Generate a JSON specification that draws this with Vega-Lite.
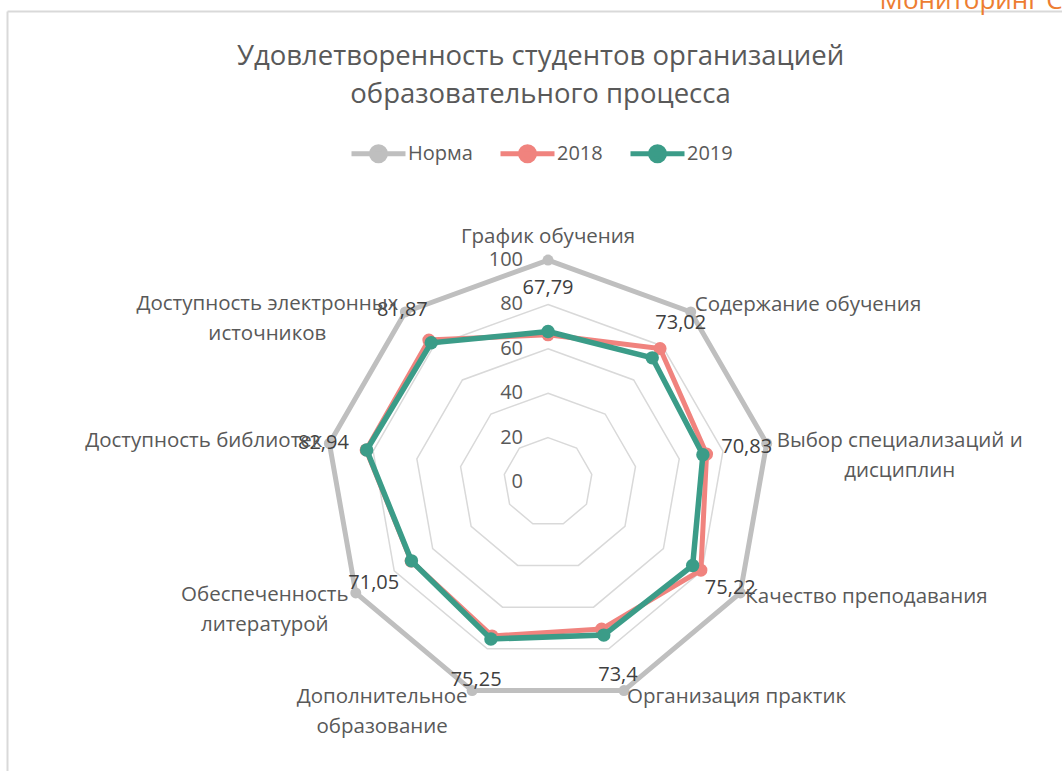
{
  "$schema": "https://vega.github.io/schema/vega-lite/v6.json",
  "width": 1055,
  "height": 760,
  "autosize": {"type": "none"},
  "padding": {"left": 7, "top": 11, "right": 0, "bottom": 0},
  "background": "white",
  "config": {
    "view": {"stroke": null},
    "font": "Open Sans",
    "locale": {"number": {"decimal": ",", "thousands": " ", "grouping": [3], "currency": ["", ""]}}
  },
  "title": {
    "text": ["Удовлетворенность студентов организацией", "образовательного процесса"],
    "anchor": "middle",
    "frame": "group",
    "orient": "top",
    "offset": -143,
    "baseline": "alphabetic",
    "fontSize": 27.5,
    "font": "Open Sans",
    "fontWeight": "normal",
    "color": "#595959",
    "lineHeight": 38,
    "dx": 6
  },
  "datasets": {
    "cats": [
      {"i": 0, "cat": "График обучения", "label": "График обучения", "levels": [0, 20, 40, 60, 80, 100]},
      {"i": 1, "cat": "Содержание обучения", "label": "Содержание обучения", "levels": [0, 20, 40, 60, 80, 100]},
      {"i": 2, "cat": "Выбор специализаций и дисциплин", "label": "Выбор специализаций и\nдисциплин", "levels": [0, 20, 40, 60, 80, 100]},
      {"i": 3, "cat": "Качество преподавания", "label": "Качество преподавания", "levels": [0, 20, 40, 60, 80, 100]},
      {"i": 4, "cat": "Организация практик", "label": "Организация практик", "levels": [0, 20, 40, 60, 80, 100]},
      {"i": 5, "cat": "Дополнительное образование", "label": "Дополнительное\nобразование", "levels": [0, 20, 40, 60, 80, 100]},
      {"i": 6, "cat": "Обеспеченность литературой", "label": "Обеспеченность\nлитературой", "levels": [0, 20, 40, 60, 80, 100]},
      {"i": 7, "cat": "Доступность библиотек", "label": "Доступность библиотек", "levels": [0, 20, 40, 60, 80, 100]},
      {"i": 8, "cat": "Доступность электронных источников", "label": "Доступность электронных\nисточников", "levels": [0, 20, 40, 60, 80, 100]}
    ],
    "scores": [
      {"cat": "График обучения", "series": "Норма", "value": 100},
      {"cat": "Содержание обучения", "series": "Норма", "value": 100},
      {"cat": "Выбор специализаций и дисциплин", "series": "Норма", "value": 100},
      {"cat": "Качество преподавания", "series": "Норма", "value": 100},
      {"cat": "Организация практик", "series": "Норма", "value": 100},
      {"cat": "Дополнительное образование", "series": "Норма", "value": 100},
      {"cat": "Обеспеченность литературой", "series": "Норма", "value": 100},
      {"cat": "Доступность библиотек", "series": "Норма", "value": 100},
      {"cat": "Доступность электронных источников", "series": "Норма", "value": 100},
      {"cat": "График обучения", "series": "2018", "value": 66.3},
      {"cat": "Содержание обучения", "series": "2018", "value": 78.5},
      {"cat": "Выбор специализаций и дисциплин", "series": "2018", "value": 72.5},
      {"cat": "Качество преподавания", "series": "2018", "value": 79.5},
      {"cat": "Организация практик", "series": "2018", "value": 70.5},
      {"cat": "Дополнительное образование", "series": "2018", "value": 73.8},
      {"cat": "Обеспеченность литературой", "series": "2018", "value": 71.2},
      {"cat": "Доступность библиотек", "series": "2018", "value": 83.2},
      {"cat": "Доступность электронных источников", "series": "2018", "value": 83.5},
      {"cat": "График обучения", "series": "2019", "value": 67.79},
      {"cat": "Содержание обучения", "series": "2019", "value": 73.02},
      {"cat": "Выбор специализаций и дисциплин", "series": "2019", "value": 70.83},
      {"cat": "Качество преподавания", "series": "2019", "value": 75.22},
      {"cat": "Организация практик", "series": "2019", "value": 73.4},
      {"cat": "Дополнительное образование", "series": "2019", "value": 75.25},
      {"cat": "Обеспеченность литературой", "series": "2019", "value": 71.05},
      {"cat": "Доступность библиотек", "series": "2019", "value": 82.94},
      {"cat": "Доступность электронных источников", "series": "2019", "value": 81.87}
    ]
  },
  "encoding": {
    "x": {"field": "x", "type": "quantitative", "scale": {"domain": [-243.7, 231.5], "nice": false, "zero": false},
      "axis": {"orient": "top", "domain": true, "domainColor": "#D9D9D9", "domainWidth": 2, "ticks": false, "labels": false, "grid": false,
        "title": "Мониторинг СМК", "titleX": 872, "titleY": -3, "titleAlign": "left", "titleAnchor": null, "titleBaseline": "alphabetic",
        "titleFontSize": 26, "titleFontWeight": "normal", "titleColor": "#ED7D31", "titleFont": "Open Sans"}},
    "y": {"field": "y", "type": "quantitative", "scale": {"domain": [-130.2, 212.2], "nice": false, "zero": false},
      "axis": {"orient": "left", "domain": true, "domainColor": "#D9D9D9", "domainWidth": 2, "ticks": false, "labels": false, "grid": false, "title": null}}
  },
  "layer": [
    {
      "data": {"name": "cats"},
      "transform": [
        {"flatten": ["levels"], "as": ["level"]},
        {"filter": "datum.level > 0"},
        {"calculate": "datum.level * sin(datum.i * 2 * PI / 9)", "as": "x"},
        {"calculate": "datum.level * cos(datum.i * 2 * PI / 9)", "as": "y"}
      ],
      "mark": {"type": "line", "interpolate": "linear-closed", "stroke": "#D9D9D9", "strokeWidth": 1.5},
      "encoding": {
        "detail": {"field": "level", "type": "nominal"},
        "order": {"field": "i", "type": "quantitative"}
      }
    },
    {
      "data": {"name": "cats"},
      "transform": [
        {"filter": "datum.i == 0"},
        {"flatten": ["levels"], "as": ["level"]},
        {"calculate": "0", "as": "x"},
        {"calculate": "datum.level", "as": "y"}
      ],
      "mark": {"type": "text", "align": "right", "baseline": "middle", "dx": -25, "fontSize": 20, "color": "#595959"},
      "encoding": {"text": {"field": "level", "type": "quantitative", "format": "d"}}
    },
    {
      "data": {"name": "scores"},
      "transform": [
        {"lookup": "cat", "from": {"data": {"name": "cats"}, "key": "cat", "fields": ["i"]}},
        {"calculate": "datum.value * sin(datum.i * 2 * PI / 9)", "as": "x"},
        {"calculate": "datum.value * cos(datum.i * 2 * PI / 9)", "as": "y"}
      ],
      "encoding": {
        "color": {"field": "series", "type": "nominal",
          "scale": {"domain": ["Норма", "2018", "2019"], "range": ["#BFBFBF", "#F0837E", "#3B9C88"]}},
        "order": {"field": "i", "type": "quantitative"}
      },
      "layer": [
        {
          "transform": [{"filter": "datum.series == 'Норма'"}],
          "mark": {"type": "line", "interpolate": "linear-closed", "strokeWidth": 5},
          "encoding": {
            "color": {"field": "series", "type": "nominal",
              "legend": {
                "orient": "none", "direction": "horizontal", "title": null,
                "legendX": 342, "legendY": 113,
                "symbolType": "M-1,0L1,0M-0.26,0A0.26,0.26,0,1,1,0.26,0A0.26,0.26,0,1,1,-0.26,0Z",
                "symbolSize": 2916, "symbolStrokeWidth": 5,
                "labelFontSize": 20, "labelColor": "#595959", "labelFont": "Open Sans",
                "columnPadding": 17, "labelOffset": 0,
                "encode": {"symbols": {"update": {
                  "stroke": {"scale": "color", "field": "value"},
                  "fill": {"scale": "color", "field": "value"}
                }}}
              }}
          }
        },
        {
          "transform": [{"filter": "datum.series == 'Норма'"}],
          "mark": {"type": "circle", "size": 120, "opacity": 1},
          "encoding": {"color": {"field": "series", "type": "nominal", "legend": null}}
        },
        {
          "transform": [{"filter": "datum.series == '2018'"}],
          "mark": {"type": "line", "interpolate": "linear-closed", "strokeWidth": 5},
          "encoding": {"color": {"field": "series", "type": "nominal", "legend": null}}
        },
        {
          "transform": [{"filter": "datum.series == '2018'"}],
          "mark": {"type": "circle", "size": 170, "opacity": 1},
          "encoding": {"color": {"field": "series", "type": "nominal", "legend": null}}
        },
        {
          "transform": [{"filter": "datum.series == '2019'"}],
          "mark": {"type": "line", "interpolate": "linear-closed", "strokeWidth": 5.5},
          "encoding": {"color": {"field": "series", "type": "nominal", "legend": null}}
        },
        {
          "transform": [{"filter": "datum.series == '2019'"}],
          "mark": {"type": "circle", "size": 180, "opacity": 1},
          "encoding": {"color": {"field": "series", "type": "nominal", "legend": null}}
        }
      ]
    },
    {
      "data": {"name": "scores"},
      "transform": [
        {"filter": "datum.series == '2019'"},
        {"lookup": "cat", "from": {"data": {"name": "cats"}, "key": "cat", "fields": ["i"]}},
        {"calculate": "100 * sin(datum.i * 2 * PI / 9)", "as": "x"},
        {"calculate": "100 * cos(datum.i * 2 * PI / 9)", "as": "y"}
      ],
      "encoding": {"text": {"field": "value", "type": "quantitative", "format": ".2~f"}},
      "layer": [
        {"transform": [{"filter": "datum.i == 0"}], "mark": {"type": "text", "fontSize": 20, "color": "#404040", "align": "center", "baseline": "middle", "dx": 0, "dy": 28}},
        {"transform": [{"filter": "datum.i == 1"}], "mark": {"type": "text", "fontSize": 20, "color": "#404040", "align": "center", "baseline": "middle", "dx": -10, "dy": 11}},
        {"transform": [{"filter": "datum.i == 2"}], "mark": {"type": "text", "fontSize": 20, "color": "#404040", "align": "center", "baseline": "middle", "dx": -20, "dy": 4}},
        {"transform": [{"filter": "datum.i == 3"}], "mark": {"type": "text", "fontSize": 20, "color": "#404040", "align": "center", "baseline": "middle", "dx": -10, "dy": -5}},
        {"transform": [{"filter": "datum.i == 4"}], "mark": {"type": "text", "fontSize": 20, "color": "#404040", "align": "center", "baseline": "middle", "dx": -6, "dy": -16}},
        {"transform": [{"filter": "datum.i == 5"}], "mark": {"type": "text", "fontSize": 20, "color": "#404040", "align": "center", "baseline": "middle", "dx": 4, "dy": -11}},
        {"transform": [{"filter": "datum.i == 6"}], "mark": {"type": "text", "fontSize": 20, "color": "#404040", "align": "center", "baseline": "middle", "dx": 18, "dy": -10}},
        {"transform": [{"filter": "datum.i == 7"}], "mark": {"type": "text", "fontSize": 20, "color": "#404040", "align": "center", "baseline": "middle", "dx": -6, "dy": 0}},
        {"transform": [{"filter": "datum.i == 8"}], "mark": {"type": "text", "fontSize": 20, "color": "#404040", "align": "center", "baseline": "middle", "dx": -3, "dy": -2}}
      ]
    },
    {
      "data": {"name": "cats"},
      "transform": [
        {"calculate": "100 * sin(datum.i * 2 * PI / 9)", "as": "x"},
        {"calculate": "100 * cos(datum.i * 2 * PI / 9)", "as": "y"}
      ],
      "encoding": {"text": {"field": "label", "type": "nominal"}},
      "layer": [
        {"transform": [{"filter": "datum.i == 0"}], "mark": {"type": "text", "fontSize": 20.5, "color": "#595959", "lineBreak": "\n", "lineHeight": 30, "align": "center", "baseline": "middle", "dx": 0, "dy": -23}},
        {"transform": [{"filter": "datum.i == 1"}], "mark": {"type": "text", "fontSize": 20.5, "color": "#595959", "lineBreak": "\n", "lineHeight": 30, "align": "left", "baseline": "middle", "dx": 4, "dy": -7}},
        {"transform": [{"filter": "datum.i == 2"}], "mark": {"type": "text", "fontSize": 20.5, "color": "#595959", "lineBreak": "\n", "lineHeight": 30, "align": "center", "baseline": "middle", "dx": 133, "dy": -2}},
        {"transform": [{"filter": "datum.i == 3"}], "mark": {"type": "text", "fontSize": 20.5, "color": "#595959", "lineBreak": "\n", "lineHeight": 30, "align": "left", "baseline": "middle", "dx": 5, "dy": 4}},
        {"transform": [{"filter": "datum.i == 4"}], "mark": {"type": "text", "fontSize": 20.5, "color": "#595959", "lineBreak": "\n", "lineHeight": 30, "align": "left", "baseline": "middle", "dx": 3, "dy": 6}},
        {"transform": [{"filter": "datum.i == 5"}], "mark": {"type": "text", "fontSize": 20.5, "color": "#595959", "lineBreak": "\n", "lineHeight": 30, "align": "center", "baseline": "middle", "dx": -90, "dy": 6}},
        {"transform": [{"filter": "datum.i == 6"}], "mark": {"type": "text", "fontSize": 20.5, "color": "#595959", "lineBreak": "\n", "lineHeight": 30, "align": "center", "baseline": "middle", "dx": -91, "dy": 2}},
        {"transform": [{"filter": "datum.i == 7"}], "mark": {"type": "text", "fontSize": 20.5, "color": "#595959", "lineBreak": "\n", "lineHeight": 30, "align": "right", "baseline": "middle", "dx": -7, "dy": -2}},
        {"transform": [{"filter": "datum.i == 8"}], "mark": {"type": "text", "fontSize": 20.5, "color": "#595959", "lineBreak": "\n", "lineHeight": 30, "align": "center", "baseline": "middle", "dx": -138, "dy": -8}}
      ]
    }
  ]
}
